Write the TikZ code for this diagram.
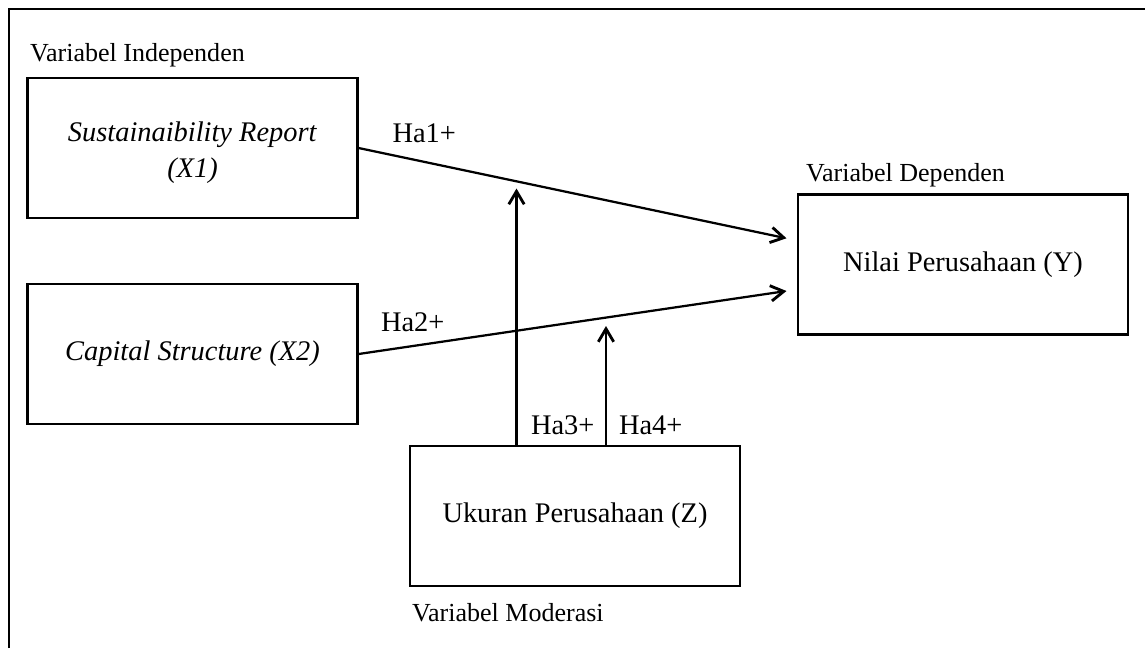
\documentclass[tikz,border=0pt]{standalone}
\usepackage{fontspec}
\setmainfont{Liberation Serif}
\usetikzlibrary{arrows.meta}

\begin{document}
\begin{tikzpicture}[x=0.4225pt,y=-0.4225pt,line width=0.95pt,
  >={Straight Barb[length=5.5pt,width=6.5pt,line width=1.2pt]},
  var node/.style={draw,rectangle,minimum width=139.4pt,
  minimum height=59.2pt,align=center,font=\fontsize{12}{15.2}\selectfont},
  var label/.style={anchor=base west,inner sep=0pt,
  font=\fontsize{11}{13}\selectfont},
  hyp label/.style={anchor=base west,inner sep=0pt,
  font=\fontsize{12}{14}\selectfont}]

  \useasboundingbox (0,0) rectangle (1145,648);
  \draw (9,648) -- (9,9) -- (1145,9);

  \node[var node] (x1) at (192.5,148) {\rule{0pt}{12.5pt}\textit{Sustainaibility Report}\\\textit{(X1)}};
  \node[var node] (x2) at (192.5,354) {\textit{Capital Structure (X2)}};
  \node[var node] (y) at (963,264.5) {Nilai Perusahaan (Y)};
  \node[var node] (z) at (575,516) {Ukuran Perusahaan (Z)};

  \node[var label] (lx) at (29,61.5) {Variabel Independen};
  \node[var label] (ly) at (805,181.5) {Variabel Dependen};
  \node[var label] (lz) at (411,621.5) {Variabel Moderasi};

  % arrow tips
  \coordinate (y1) at (786.5,238.3);
  \coordinate (y2) at (786.5,291);
  \coordinate (m3) at (516.5,188.5);
  \coordinate (m4) at (606,326);

  \draw[->] (x1.east) -- (y1);
  \draw[->] (x2.east) -- (y2);
  \draw[->] (z.north -| m3) -- (m3);
  \draw[->] (z.north -| m4) -- (m4);

  \node[hyp label] (h1) at (391.5,142.5) {Ha1+};
  \node[hyp label] (h2) at (380,331.5) {Ha2+};
  \node[hyp label] (h3) at (530,434) {Ha3+};
  \node[hyp label] (h4) at (618,434) {Ha4+};
\end{tikzpicture}
\end{document}
